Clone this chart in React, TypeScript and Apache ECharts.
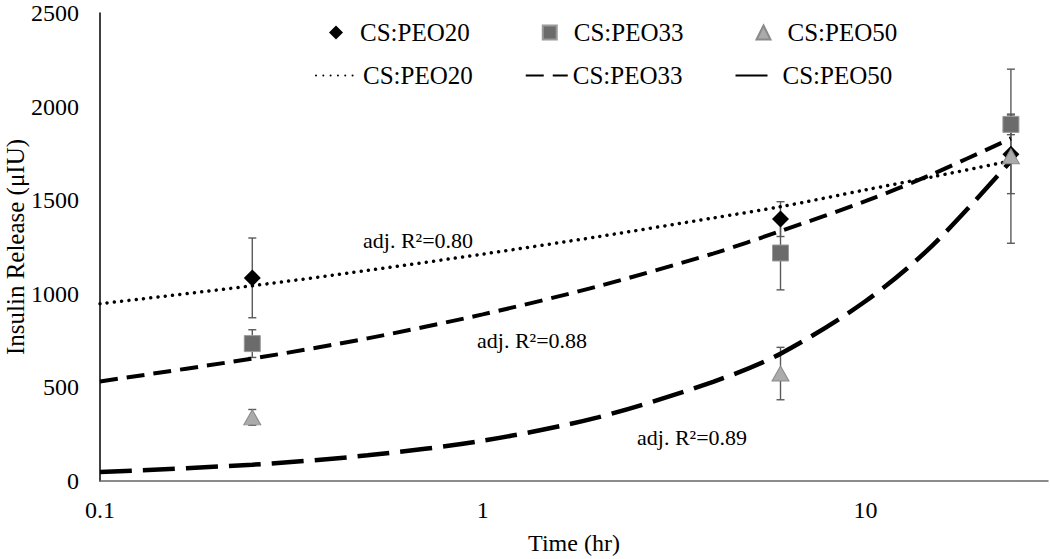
import React, { useEffect, useRef } from 'react';
import * as echarts from 'echarts';

// Measured data (time in hours, insulin release in µIU)
const times = [0.25, 6, 24];
const peo20 = [1085, 1399, 1745];
const peo20Err = [213, 93, 210];
const peo33 = [734, 1218, 1905];
const peo33Err = [74, 197, 55];
const peo50 = [340, 574, 1735];
const peo50Err = [42, 140, 465];

// Fitted trend curves
const fitTimes = [0.1, 0.25, 0.5, 1, 2, 4, 6, 10, 15, 24];
const fit20 = [947, 1043, 1125, 1212, 1305, 1405, 1465, 1555, 1625, 1710];
const fit33 = [532, 654, 762, 890, 1040, 1215, 1335, 1495, 1640, 1830];
const fit50 = [48, 87, 137, 215, 340, 530, 680, 960, 1260, 1710];

const seriesNames = ['CS:PEO20', 'CS:PEO33', 'CS:PEO50'];
const fitNames = ['CS:PEO20 fit', 'CS:PEO33 fit', 'CS:PEO50 fit'];
const fitLabels = ['adj. R²=0.80', 'adj. R²=0.88', 'adj. R²=0.89'];
const xTickValues = [0.1, 1, 10];

const FONT = "'Liberation Serif', 'Times New Roman', serif";

function errSeries(name: string, vals: number[], errs: number[]) {
  return {
    type: 'custom',
    name,
    silent: true,
    z: 1,
    data: times.map((t, i) => [t, vals[i] - errs[i], vals[i] + errs[i]]),
    encode: { x: 0, y: [1, 2] },
    renderItem: (params: any, api: any) => {
      const lo = api.coord([api.value(0), api.value(1)]);
      const hi = api.coord([api.value(0), api.value(2)]);
      const w = 4;
      const style = { stroke: '#5a5a5a', lineWidth: 1.4 };
      return {
        type: 'group',
        children: [
          { type: 'line', shape: { x1: lo[0], y1: lo[1], x2: hi[0], y2: hi[1] }, style },
          { type: 'line', shape: { x1: lo[0] - w, y1: lo[1], x2: lo[0] + w, y2: lo[1] }, style },
          { type: 'line', shape: { x1: hi[0] - w, y1: hi[1], x2: hi[0] + w, y2: hi[1] }, style },
        ],
      };
    },
  };
}

function fitSeries(name: string, vals: number[], width: number, dash: number[], cap: string) {
  return {
    type: 'line',
    name,
    data: fitTimes.map((t, i) => [t, vals[i]]),
    smooth: 0.3,
    symbol: 'none',
    showSymbol: false,
    z: 2,
    itemStyle: { color: '#000', opacity: 0 },
    lineStyle: { color: '#000', width, type: dash, cap, opacity: 1 },
  };
}

export default function App() {
  const ref = useRef<HTMLDivElement>(null);
  useEffect(() => {
    if (!ref.current) return;
    const chart = echarts.init(ref.current, undefined, { renderer: 'svg' });
    const option = {
      animation: false,
      backgroundColor: '#fff',
      grid: { left: 100, right: 2, top: 13, bottom: 78, containLabel: false, outerBoundsMode: 'none' },
      legend: [
        {
          data: seriesNames,
          left: 329,
          top: 20,
          padding: 0,
          itemWidth: 14,
          itemHeight: 14,
          itemGap: 72,
          selectedMode: false,
          textStyle: { fontFamily: FONT, fontSize: 25, color: '#000', padding: [0, 0, 0, 12] },
        },
        {
          data: fitNames,
          left: 315,
          top: 63,
          padding: 0,
          itemWidth: 42,
          itemHeight: 14,
          itemGap: 52,
          selectedMode: false,
          itemStyle: { opacity: 0 },
          formatter: (n: string) => n.replace(' fit', ''),
          textStyle: { fontFamily: FONT, fontSize: 25, color: '#000' },
        },
      ],
      xAxis: {
        type: 'log',
        logBase: 10,
        min: 0.1,
        max: 30,
        name: 'Time (hr)',
        nameLocation: 'middle',
        nameGap: 50,
        nameMoveOverlap: false,
        nameTextStyle: { fontFamily: FONT, fontSize: 24, color: '#000' },
        axisLine: { show: true, onZero: false, lineStyle: { color: '#666', width: 1.5 } },
        axisTick: { show: false },
        splitLine: { show: false },
        minorTick: { show: false },
        axisLabel: {
          margin: 17,
          fontFamily: FONT,
          fontSize: 24,
          color: '#000',
          showMaxLabel: false,
          formatter: (v: number) => {
            const r = Number(v.toPrecision(6));
            return xTickValues.indexOf(r) >= 0 ? String(r) : '';
          },
        },
      },
      yAxis: {
        type: 'value',
        min: 0,
        max: 2500,
        interval: 500,
        name: 'Insulin Release (μIU)',
        nameLocation: 'middle',
        nameGap: 72,
        nameMoveOverlap: false,
        nameTextStyle: { fontFamily: FONT, fontSize: 25, color: '#000' },
        axisLine: { show: true, lineStyle: { color: '#000', width: 1.5 } },
        axisTick: { show: false },
        splitLine: { show: false },
        axisLabel: {
          margin: 21,
          fontFamily: FONT,
          fontSize: 24,
          color: '#000',
          formatter: (v: number) => String(v),
        },
      },
      series: [
        errSeries('err20', peo20, peo20Err),
        errSeries('err33', peo33, peo33Err),
        errSeries('err50', peo50, peo50Err),
        fitSeries(fitNames[0], fit20, 3.5, [0.01, 7.3], 'round'),
        fitSeries(fitNames[1], fit33, 4, [18, 9], 'butt'),
        fitSeries(fitNames[2], fit50, 4.5, [32, 11], 'butt'),
        {
          type: 'scatter',
          name: seriesNames[0],
          data: times.map((t, i) => [t, peo20[i]]),
          symbol: 'diamond',
          symbolSize: 17,
          z: 3,
          itemStyle: { color: '#000', opacity: 1 },
        },
        {
          type: 'scatter',
          name: seriesNames[1],
          data: times.map((t, i) => [t, peo33[i]]),
          symbol: 'rect',
          symbolSize: 16,
          z: 3,
          itemStyle: { color: '#6b6b6b', borderColor: '#9a9a9a', borderWidth: 1, opacity: 1 },
        },
        {
          type: 'scatter',
          name: seriesNames[2],
          data: times.map((t, i) => [t, peo50[i]]),
          symbol: 'triangle',
          symbolSize: [17, 15],
          z: 3,
          itemStyle: { color: '#ababab', borderColor: '#8a8a8a', borderWidth: 1, opacity: 1 },
        },
      ],
      graphic: [
        { type: 'text', x: 363, y: 240, style: { text: fitLabels[0], fontFamily: FONT, fontSize: 22, fill: '#000', verticalAlign: 'middle', align: 'left' } },
        { type: 'text', x: 477, y: 340, style: { text: fitLabels[1], fontFamily: FONT, fontSize: 22, fill: '#000', verticalAlign: 'middle', align: 'left' } },
        { type: 'text', x: 637, y: 437, style: { text: fitLabels[2], fontFamily: FONT, fontSize: 22, fill: '#000', verticalAlign: 'middle', align: 'left' } },
      ],
    };
    chart.setOption(option as any);
    return () => chart.dispose();
  }, []);
  return (
    <div
      ref={ref}
      style={{ position: 'fixed', left: 0, top: 0, width: 1050, height: 559, background: '#fff' }}
    />
  );
}
